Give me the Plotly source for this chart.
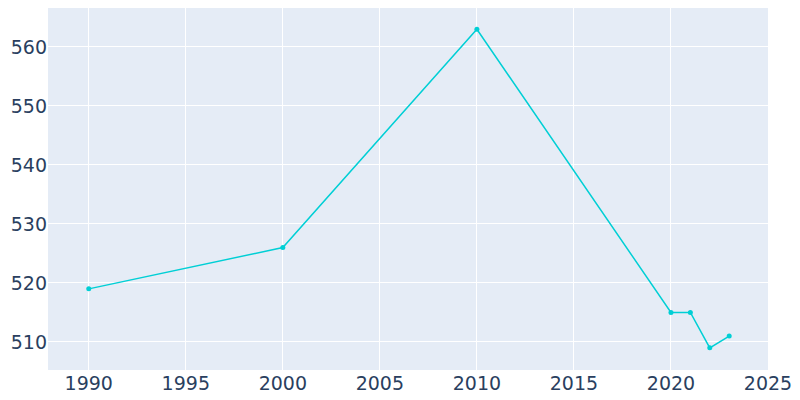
import plotly.graph_objects as go

years = [1990, 2000, 2010, 2020, 2021, 2022, 2023]
population = [519, 526, 563, 515, 515, 509, 511]

fig = go.Figure(go.Scatter(x=years, y=population, mode="lines+markers",
                           line=dict(color="#00cfd5", width=1.5),
                           marker=dict(size=5, color="#00cfd5")))
fig.update_layout(
    width=800, height=400,
    margin=dict(l=40, r=40, t=0, b=38),
    plot_bgcolor="#e5ecf6", paper_bgcolor="white",
    font=dict(family="DejaVu Sans", size=19, color="#2a3f5f"),
    showlegend=False,
)
fig.update_xaxes(range=[1987.9, 2025], dtick=5, gridcolor="white", zeroline=False)
fig.update_yaxes(range=[505.25, 566.6], dtick=10, gridcolor="white", zeroline=False)
fig.write_html("out.html")
